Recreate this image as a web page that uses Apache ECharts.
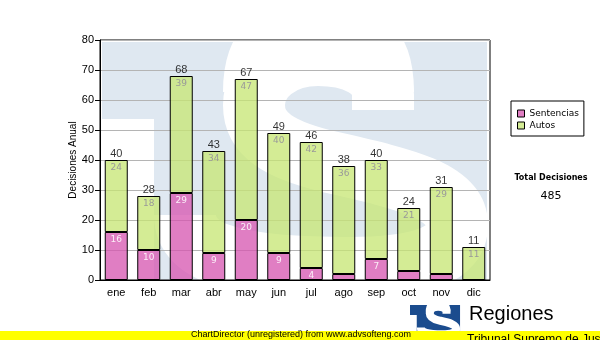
<!DOCTYPE html>
<html>
<head>
<meta charset="utf-8">
<script src="https://cdn.jsdelivr.net/npm/echarts@6/dist/echarts.min.js"></script>
<style>
  html, body { margin: 0; padding: 0; background: #fff; }
  #chart { width: 600px; height: 340px; }
</style>
</head>
<body>
<div id="chart"></div>
<script>
// Monthly decisions, stacked: sentencias + autos
const months = ['ene', 'feb', 'mar', 'abr', 'may', 'jun', 'jul', 'ago', 'sep', 'oct', 'nov', 'dic'];
const sentencias = [16, 10, 29, 9, 20, 9, 4, 2, 7, 3, 2, 0];
const autos = [24, 18, 39, 34, 47, 40, 42, 36, 33, 21, 29, 11];
const yMin = 0, yMax = 80, yStep = 10;

const totals = months.map((m, i) => sentencias[i] + autos[i]);
const grandTotal = totals.reduce((a, b) => a + b, 0);

const PINK = 'rgba(214, 86, 176, 0.76)';
const GREEN = 'rgba(198, 230, 116, 0.76)';
const SANS = '"Liberation Sans", Arial, sans-serif';
const VERD = '"DejaVu Sans", Verdana, sans-serif';

// "S" emblem centre line, in a 385 x 238 local box; stroked thick
echarts.graphic.registerShape('emblemS', echarts.graphic.extendShape({
  shape: {},
  buildPath: function (ctx) {
    ctx.moveTo(281, 68);
    ctx.lineTo(281, 53);
    ctx.bezierCurveTo(281, 28, 253, 13, 216, 13);
    ctx.bezierCurveTo(178, 13, 152, 36, 152, 63);
    ctx.bezierCurveTo(152, 93, 178, 108, 228, 120);
    ctx.bezierCurveTo(298, 136, 355, 148, 355, 183);
    ctx.bezierCurveTo(355, 213, 318, 226, 248, 226);
    ctx.bezierCurveTo(138, 226, 83, 213, 83, 173);
  }
}));
// heavier crown of the S
echarts.graphic.registerShape('emblemCrown', echarts.graphic.extendShape({
  shape: {},
  buildPath: function (ctx) {
    ctx.moveTo(281, 50);
    ctx.bezierCurveTo(281, 2, 262, -10, 216, -10);
    ctx.bezierCurveTo(170, -10, 152, 5, 152, 50);
  }
}));

function emblem(x, y, k, bg, fg, z) {
  return [
    { type: 'rect', x: x, y: y, z: z, shape: { x: 0, y: 0, width: 385 * k, height: 238 * k },
      style: { fill: bg } },
    { type: 'rect', x: x, y: y + 77 * k, z: z, shape: { x: 0, y: 0, width: 52 * k, height: 161 * k },
      style: { fill: fg } },
    { type: 'emblemS', x: x, y: y, scaleX: k, scaleY: k, z: z,
      shape: {},
      style: { fill: null, stroke: fg, lineWidth: 62, lineCap: 'butt' } },
    { type: 'emblemCrown', x: x, y: y, scaleX: k, scaleY: k, z: z,
      shape: {},
      style: { fill: null, stroke: fg, lineWidth: 62, lineCap: 'butt' } }
  ];
}

const chart = echarts.init(document.getElementById('chart'), null, { renderer: 'canvas' });

const graphics = []
  .concat(emblem(102, 42, 1, '#dfe8f1', '#ffffff', -10))
  .concat(emblem(410, 305, 0.13, '#1b4c8e', '#ffffff', 50))
  .concat([
    { type: 'text', x: 469, y: 304, z: 51,
      style: { text: 'Regiones', font: '20px ' + SANS, fill: '#000' } },
    { type: 'rect', x: 0, y: 331, z: 60, shape: { x: 0, y: 0, width: 600, height: 9 },
      style: { fill: '#ffff00' } },
    { type: 'text', x: 191, y: 330, z: 61,
      style: { text: 'ChartDirector (unregistered) from www.advsofteng.com', font: '9px ' + SANS, fill: '#000' } },
    { type: 'text', x: 467, y: 334, z: 61,
      style: { text: 'Tribunal Supremo de Justicia', font: '12px ' + SANS, fill: '#000' } },
    { type: 'text', x: 551, y: 174, z: 61,
      style: { text: 'Total Decisiones', font: 'bold 8px ' + VERD, fill: '#000', textAlign: 'center', align: 'center' } },
    { type: 'text', x: 551, y: 191, z: 61,
      style: { text: String(grandTotal), font: '11px ' + VERD, fill: '#000', textAlign: 'center', align: 'center' } }
  ]);

chart.setOption({
  animation: false,
  backgroundColor: '#ffffff',
  grid: {
    left: 100, right: 110, top: 40, bottom: 60,
    show: true, borderColor: '#000', borderWidth: 1, backgroundColor: 'transparent'
  },
  legend: {
    data: ['Sentencias', 'Autos'],
    orient: 'vertical',
    left: 511, top: 101,
    padding: [7, 5, 5, 6],
    itemGap: 1,
    itemWidth: 7, itemHeight: 7,
    borderColor: '#000', borderWidth: 1,
    icon: 'rect',
    itemStyle: { borderColor: '#000', borderWidth: 1 },
    textStyle: { fontFamily: VERD, fontSize: 9, color: '#000', lineHeight: 11 }
  },
  xAxis: {
    type: 'category',
    data: months,
    axisLine: { lineStyle: { color: '#000', width: 1 } },
    axisTick: { alignWithLabel: true, length: 4, lineStyle: { color: '#000' } },
    axisLabel: { fontFamily: SANS, fontSize: 11, color: '#000', margin: 7 },
    splitLine: { show: false }
  },
  yAxis: {
    type: 'value',
    min: yMin, max: yMax, interval: yStep,
    name: 'Decisiones Anual',
    nameLocation: 'middle',
    nameGap: 22,
    nameMoveOverlap: false,
    nameTextStyle: { fontFamily: SANS, fontSize: 10, color: '#000' },
    axisLine: { show: true, lineStyle: { color: '#000', width: 1 } },
    axisTick: { show: true, length: 5, lineStyle: { color: '#000' } },
    axisLabel: { fontFamily: SANS, fontSize: 11, color: '#000', margin: 6 },
    splitLine: { show: true, lineStyle: { color: '#b4b4b4', width: 1 } }
  },
  graphic: { elements: graphics },
  series: [
    {
      name: 'Sentencias', type: 'bar', stack: 'dec', barWidth: 23,
      data: sentencias,
      itemStyle: { color: PINK, borderColor: '#000', borderWidth: 1 },
      label: {
        show: true, position: 'insideTop', distance: 3,
        fontFamily: VERD, fontSize: 9, color: '#fbeef7',
        formatter: p => (p.value >= 4 ? String(p.value) : '')
      }
    },
    {
      name: 'Autos', type: 'bar', stack: 'dec', barWidth: 23,
      data: autos,
      itemStyle: { color: GREEN, borderColor: '#000', borderWidth: 1 },
      label: {
        show: true, position: 'insideTop', distance: 3,
        fontFamily: VERD, fontSize: 9, color: '#999999'
      }
    },
    {
      name: 'Total', type: 'scatter',
      data: totals,
      symbolSize: 0,
      silent: true,
      label: {
        show: true, position: 'top', distance: 1,
        fontFamily: SANS, fontSize: 11, color: '#000'
      }
    }
  ]
});
</script>
</body>
</html>
